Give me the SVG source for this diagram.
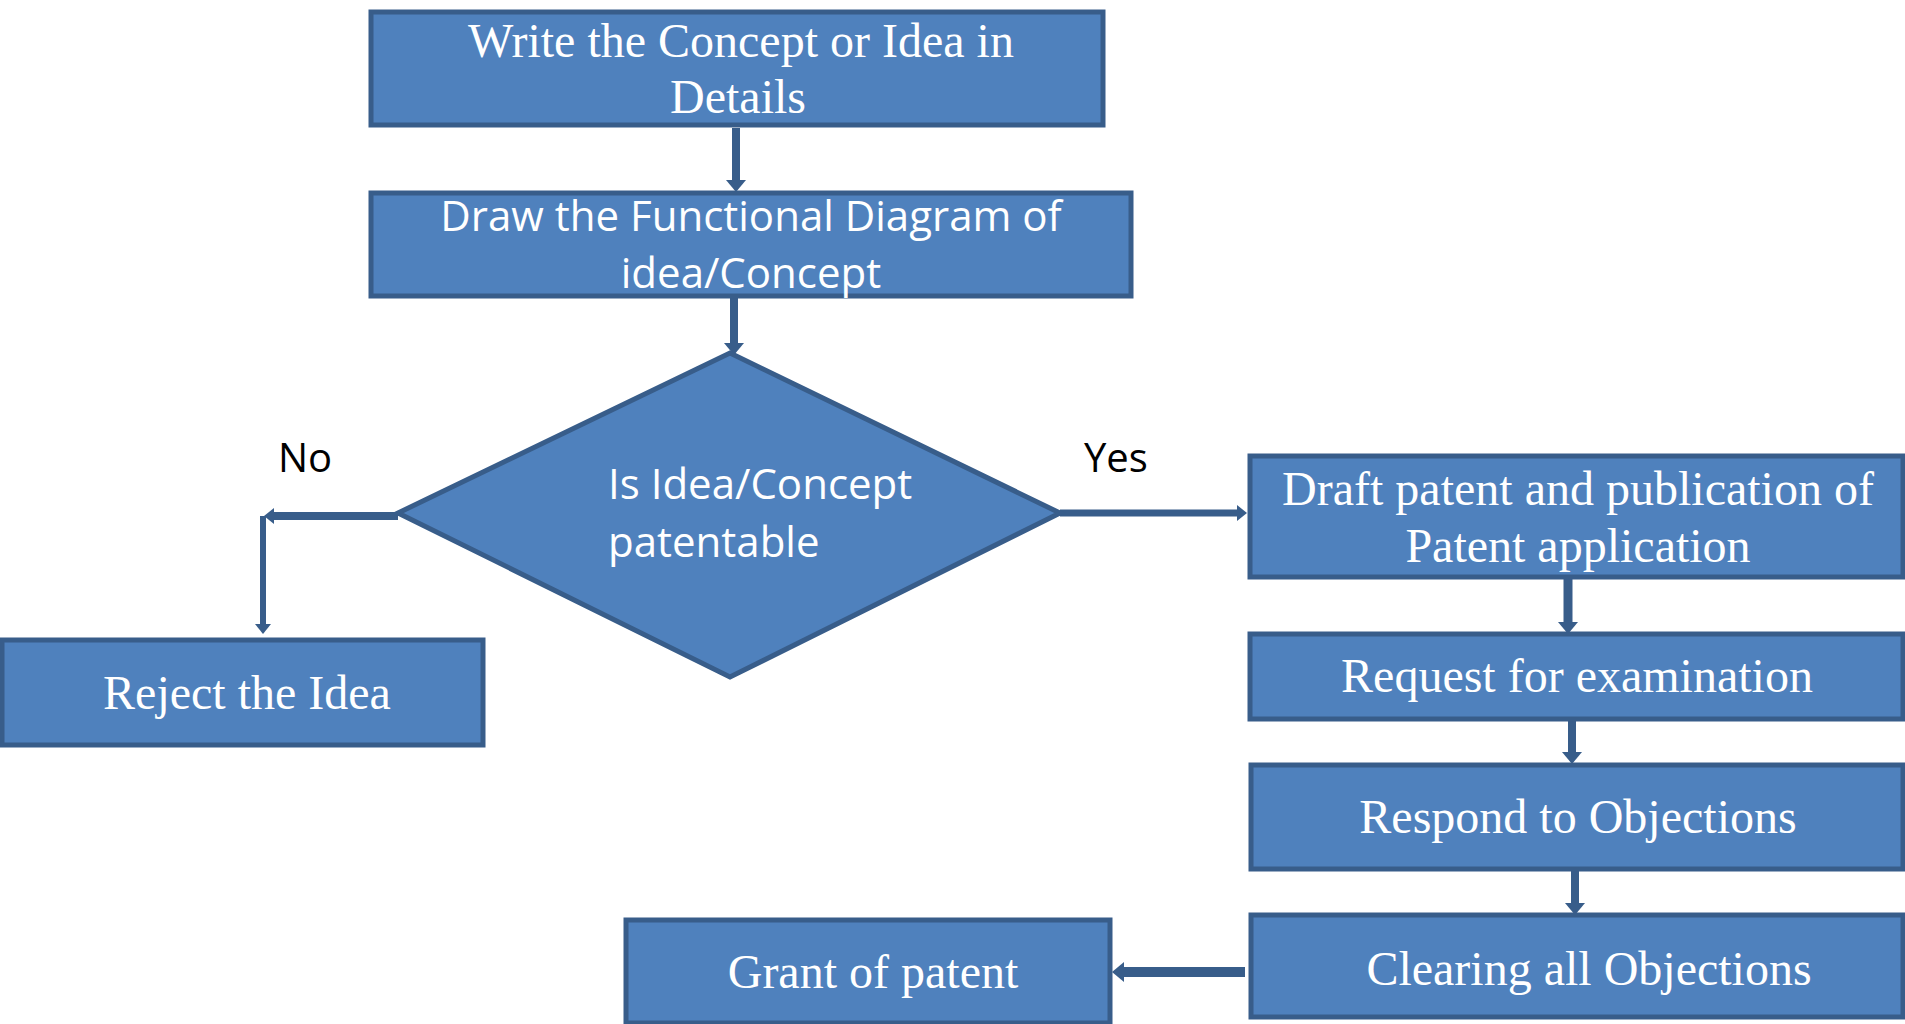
<svg xmlns="http://www.w3.org/2000/svg" width="1905" height="1024" viewBox="0 0 1905 1024">
<style>
.box{fill:#4f81bd;stroke:#385d8a;stroke-width:5}
.t{fill:#ffffff;font-family:"Liberation Serif","Times New Roman",serif;font-size:48px;text-anchor:middle}
.c{fill:#ffffff;font-family:"Open Sans","Noto Sans",sans-serif;font-size:42px}
.lbl{fill:#000000;font-family:"Open Sans","Noto Sans",sans-serif;font-size:40px}
.con{stroke:#385d8a;fill:none}
</style>
<defs>
<marker id="ah" markerUnits="userSpaceOnUse" markerWidth="12" markerHeight="20" viewBox="0 0 12 20" refX="0" refY="10" orient="auto">
<path d="M0,0 L12,10 L0,20 z" fill="#385d8a"/>
</marker>
<marker id="ahs" markerUnits="userSpaceOnUse" markerWidth="10" markerHeight="16" viewBox="0 0 10 16" refX="0" refY="8" orient="auto">
<path d="M0,0 L10,8 L0,16 z" fill="#385d8a"/>
</marker>
</defs>
<g id="connectors">
<line class="con" x1="736" y1="128" x2="736" y2="180" stroke-width="8" marker-end="url(#ah)"/>
<line class="con" x1="734" y1="297" x2="734" y2="343" stroke-width="8" marker-end="url(#ah)"/>
<line class="con" x1="398" y1="516" x2="274" y2="516" stroke-width="8" marker-end="url(#ahs)"/>
<line class="con" x1="263" y1="516" x2="263" y2="624" stroke-width="6" marker-end="url(#ahs)"/>
<line class="con" x1="1060" y1="513" x2="1237" y2="513" stroke-width="7" marker-end="url(#ahs)"/>
<line class="con" x1="1568" y1="579" x2="1568" y2="622" stroke-width="9" marker-end="url(#ah)"/>
<line class="con" x1="1572" y1="721" x2="1572" y2="752" stroke-width="8" marker-end="url(#ah)"/>
<line class="con" x1="1575" y1="871" x2="1575" y2="903" stroke-width="8" marker-end="url(#ah)"/>
<line class="con" x1="1245" y1="972" x2="1124" y2="972" stroke-width="10" marker-end="url(#ah)"/>
</g>
<g id="write-concept">
<rect class="box" x="371" y="12" width="732" height="113"/>
<text class="t" x="741" y="57">Write the Concept or Idea in</text>
<text class="t" x="738" y="113">Details</text>
</g>
<g id="functional-diagram">
<rect class="box" x="371" y="193" width="760" height="103"/>
<text class="c" x="751" y="231" text-anchor="middle">Draw the Functional Diagram of</text>
<text class="c" x="751" y="288" text-anchor="middle">idea/Concept</text>
</g>
<g id="decision">
<polygon class="box" points="730,353 1060,513 730,677 398,513"/>
<text class="c" x="608" y="499">Is Idea/Concept</text>
<text class="c" x="608" y="557">patentable</text>
</g>
<g id="label-no"><text class="lbl" x="278" y="472">No</text></g>
<g id="label-yes"><text class="lbl" x="1084" y="472">Yes</text></g>
<g id="reject">
<rect class="box" x="2" y="640" width="481" height="105"/>
<text class="t" x="247" y="709">Reject the Idea</text>
</g>
<g id="draft">
<rect class="box" x="1250" y="456" width="653" height="121"/>
<text class="t" x="1578" y="505">Draft patent and publication of</text>
<text class="t" x="1578" y="562">Patent application</text>
</g>
<g id="request">
<rect class="box" x="1250" y="634" width="653" height="85"/>
<text class="t" x="1577" y="692">Request for examination</text>
</g>
<g id="respond">
<rect class="box" x="1251" y="765" width="652" height="104"/>
<text class="t" x="1578" y="833">Respond to Objections</text>
</g>
<g id="clearing">
<rect class="box" x="1251" y="915" width="652" height="102"/>
<text class="t" x="1589" y="985">Clearing all Objections</text>
</g>
<g id="grant">
<rect class="box" x="626" y="920" width="484" height="103"/>
<text class="t" x="873" y="988">Grant of patent</text>
</g>
</svg>
